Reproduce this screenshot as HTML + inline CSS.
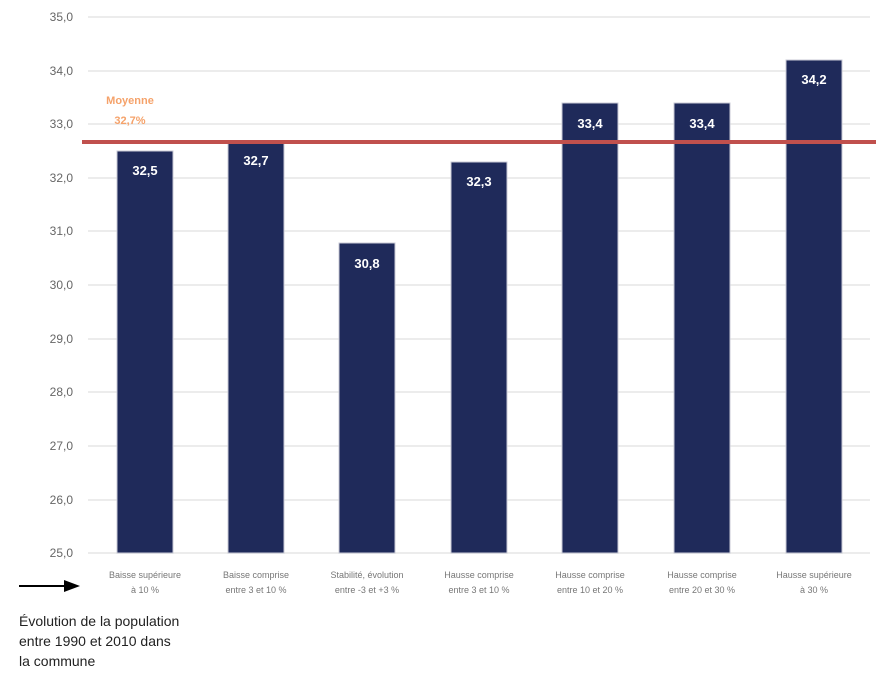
<!DOCTYPE html>
<html><head><meta charset="utf-8"><style>
body{margin:0;background:#fff}
svg{display:block}
text{font-family:"Liberation Sans",sans-serif}
</style></head><body>
<svg width="892" height="678" viewBox="0 0 892 678" xmlns="http://www.w3.org/2000/svg">
<g stroke="#ececec" stroke-width="2">
<line x1="88" x2="870" y1="17" y2="17"/><line x1="88" x2="870" y1="71" y2="71"/>
<line x1="88" x2="870" y1="124" y2="124"/><line x1="88" x2="870" y1="178" y2="178"/>
<line x1="88" x2="870" y1="231" y2="231"/><line x1="88" x2="870" y1="285" y2="285"/>
<line x1="88" x2="870" y1="339" y2="339"/><line x1="88" x2="870" y1="392" y2="392"/>
<line x1="88" x2="870" y1="446" y2="446"/><line x1="88" x2="870" y1="500" y2="500"/>
<line x1="88" x2="870" y1="553" y2="553"/>
</g>
<g font-size="12" fill="#666" text-anchor="end">
<text x="73" y="21">35,0</text><text x="73" y="75">34,0</text><text x="73" y="128">33,0</text>
<text x="73" y="182">32,0</text><text x="73" y="235">31,0</text><text x="73" y="289">30,0</text>
<text x="73" y="343">29,0</text><text x="73" y="396">28,0</text><text x="73" y="450">27,0</text>
<text x="73" y="504">26,0</text><text x="73" y="557">25,0</text>
</g>
<g fill="#1f2a5a" stroke="#c8cad6" stroke-width="1">
<rect x="117" y="151" width="56" height="402"/>
<rect x="228" y="141" width="56" height="412"/>
<rect x="339" y="243" width="56" height="310"/>
<rect x="451" y="162" width="56" height="391"/>
<rect x="562" y="103" width="56" height="450"/>
<rect x="674" y="103" width="56" height="450"/>
<rect x="786" y="60" width="56" height="493"/>
</g>
<line x1="82" x2="876" y1="142" y2="142" stroke="#c0504d" stroke-width="4"/>
<g font-size="13" font-weight="bold" fill="#fff" text-anchor="middle">
<text x="145" y="175">32,5</text><text x="256" y="165">32,7</text><text x="367" y="268">30,8</text>
<text x="479" y="186">32,3</text><text x="590" y="128">33,4</text><text x="702" y="128">33,4</text>
<text x="814" y="84">34,2</text>
</g>
<g font-size="11" font-weight="bold" fill="#f5a26a" text-anchor="middle">
<text x="130" y="104">Moyenne</text><text x="130" y="124">32,7%</text>
</g>
<g font-size="9" fill="#777" text-anchor="middle">
<text x="145" y="578">Baisse supérieure</text><text x="145" y="593">à 10 %</text>
<text x="256" y="578">Baisse comprise</text><text x="256" y="593">entre 3 et 10 %</text>
<text x="367" y="578">Stabilité, évolution</text><text x="367" y="593">entre -3 et +3 %</text>
<text x="479" y="578">Hausse comprise</text><text x="479" y="593">entre 3 et 10 %</text>
<text x="590" y="578">Hausse comprise</text><text x="590" y="593">entre 10 et 20 %</text>
<text x="702" y="578">Hausse comprise</text><text x="702" y="593">entre 20 et 30 %</text>
<text x="814" y="578">Hausse supérieure</text><text x="814" y="593">à 30 %</text>
</g>
<line x1="19" x2="66" y1="586" y2="586" stroke="#000" stroke-width="2"/>
<polygon points="64,580 80,586 64,592" fill="#000"/>
<g font-size="14" fill="#222">
<text x="19" y="626">Évolution de la population</text>
<text x="19" y="646">entre 1990 et 2010 dans</text>
<text x="19" y="666">la commune</text>
</g>
</svg>
</body></html>
